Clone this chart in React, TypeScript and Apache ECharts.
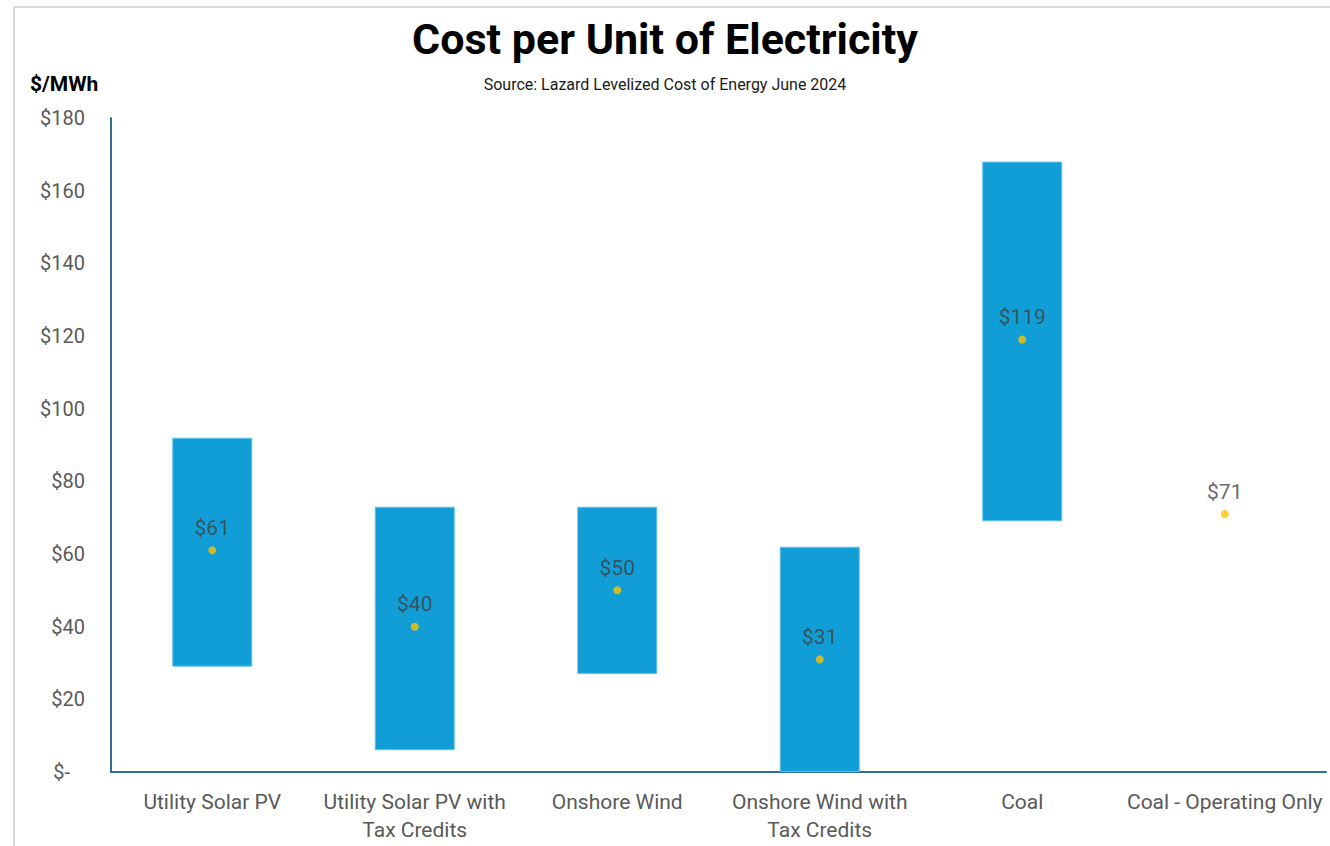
import React, { useEffect, useRef } from "react";
import * as echarts from "echarts";

// Levelized cost ranges ($/MWh) and midpoints per technology
const categories = [
  "Utility Solar PV",
  "Utility Solar PV with\nTax Credits",
  "Onshore Wind",
  "Onshore Wind with\nTax Credits",
  "Coal",
  "Coal - Operating Only",
];
const rangeLow: (number | null)[] = [29, 6, 27, 0, 69, null];
const rangeHigh: (number | null)[] = [92, 73, 73, 62, 168, null];
const midpoint = [61, 40, 50, 31, 119, 71];

const yMin = 0;
const yMax = 180;
const yStep = 20;

const FONT = "Roboto, 'Noto Sans', sans-serif";

const formatDollar = (v: number) => (v === 0 ? "$-   " : `$${v}`);

export default function App() {
  const ref = useRef<HTMLDivElement>(null);

  useEffect(() => {
    if (!ref.current) return;
    const chart = echarts.init(ref.current, undefined, { renderer: "svg" });

    const rangeSpan = rangeHigh.map((h, i) => {
      const l = rangeLow[i];
      return h == null || l == null ? null : h - l;
    });

    chart.setOption({
      animation: false,
      backgroundColor: "#ffffff",
      textStyle: { fontFamily: FONT },
      graphic: [
        {
          type: "rect",
          shape: { x: 14, y: 7, width: 1340, height: 860 },
          style: { fill: "none", stroke: "#d9d9d9", lineWidth: 2 },
          silent: true,
        },
        {
          type: "text",
          left: "center",
          top: 17,
          style: {
            text: "Cost per Unit of Electricity",
            font: `bold 43px ${FONT}`,
            fill: "#000000",
          },
        },
        {
          type: "text",
          left: "center",
          top: 76,
          style: {
            text: "Source: Lazard Levelized Cost of Energy June 2024",
            font: `16px ${FONT}`,
            fill: "#1a1a1a",
          },
        },
        {
          type: "text",
          left: 30,
          top: 73,
          style: {
            text: "$/MWh",
            font: `bold 21px ${FONT}`,
            fill: "#000000",
          },
        },
      ],
      grid: { left: 111, right: 4, top: 118, bottom: 74, containLabel: false },
      xAxis: {
        type: "category",
        data: categories,
        axisLine: { show: true, lineStyle: { color: "#2f6f96", width: 2 } },
        axisTick: { show: false },
        axisLabel: {
          color: "#595959",
          fontSize: 21,
          lineHeight: 28,
          margin: 16,
          interval: 0,
          fontFamily: FONT,
        },
      },
      yAxis: {
        type: "value",
        min: yMin,
        max: yMax,
        interval: yStep,
        axisLine: { show: true, lineStyle: { color: "#2f6f96", width: 2 } },
        axisTick: { show: false },
        splitLine: { show: false },
        axisLabel: {
          color: "#595959",
          fontSize: 20,
          margin: 26,
          fontFamily: FONT,
          formatter: formatDollar,
        },
      },
      series: [
        {
          name: "base",
          type: "bar",
          stack: "range",
          barWidth: 80,
          silent: true,
          itemStyle: { color: "rgba(0,0,0,0)" },
          data: rangeLow,
        },
        {
          name: "range",
          type: "bar",
          stack: "range",
          barWidth: 80,
          itemStyle: { color: "#119ed6", borderColor: "#5cc2ec", borderWidth: 1 },
          data: rangeSpan,
        },
        {
          name: "midpoint",
          type: "scatter",
          symbol: "circle",
          symbolSize: 8,
          itemStyle: { color: "#ffc000" },
          label: {
            show: true,
            position: "top",
            distance: 8,
            color: "#404040",
            fontSize: 21,
            fontFamily: FONT,
            formatter: (p: any) => `$${p.value}`,
          },
          z: 5,
          data: midpoint,
        },
      ],
    });

    return () => chart.dispose();
  }, []);

  return (
    <div
      ref={ref}
      style={{ position: "absolute", left: 0, top: 0, width: 1330, height: 846 }}
    />
  );
}
